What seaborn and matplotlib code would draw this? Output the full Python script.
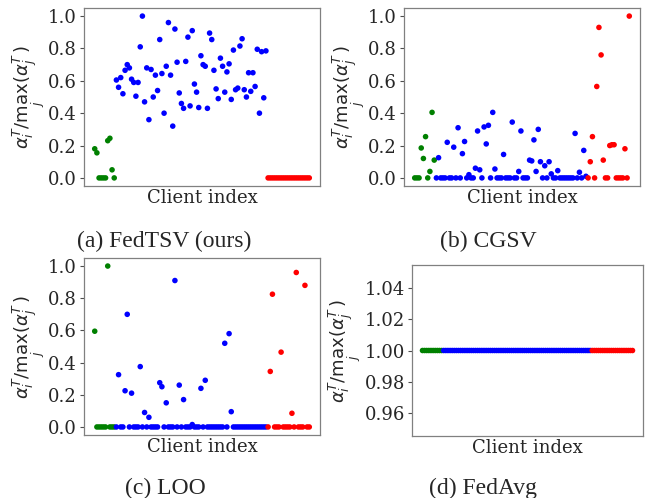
import numpy as np
import pandas as pd
import matplotlib
matplotlib.use("Agg")
import matplotlib.pyplot as plt
import seaborn as sns

# ---- data ----
fedtsv_green = [0.18, 0.155, 0, 0, 0, 0, 0.23, 0.245, 0.05, 0]
fedtsv_blue = [0.605, 0.56, 0.62, 0.52, 0.665, 0.70, 0.68, 0.61, 0.59, 0.505,
               0.59, 0.81, 1.0, 0.47, 0.68, 0.36, 0.67, 0.50, 0.635, 0.54,
               0.855, 0.645, 0.40, 0.69, 0.96, 0.635, 0.32, 0.92, 0.715, 0.525,
               0.46, 0.43, 0.72, 0.87, 0.445, 0.91, 0.58, 0.53, 0.435, 0.755,
               0.70, 0.69, 0.43, 0.895, 0.855, 0.665, 0.55, 0.49, 0.74, 0.69,
               0.53, 0.655, 0.705, 0.485, 0.79, 0.545, 0.555, 0.815, 0.86, 0.545,
               0.50, 0.65, 0.535, 0.65, 0.565, 0.795, 0.40, 0.78, 0.495, 0.785]
fedtsv_red = [0.0] * 20

cgsv_green = [0, 0, 0, 0.185, 0.12, 0.255, 0, 0.04, 0.405, 0.11]
cgsv_blue = [0, 0.125, 0, 0, 0, 0.22, 0, 0, 0.19, 0,
             0.31, 0, 0.15, 0.225, 0, 0.02, 0, 0, 0.06, 0.29,
             0.05, 0, 0.315, 0.21, 0.325, 0, 0.405, 0.055, 0, 0,
             0, 0.145, 0, 0, 0, 0.345, 0, 0, 0.04, 0.29,
             0, 0, 0, 0.11, 0.105, 0.235, 0.04, 0.30, 0.10, 0,
             0.075, 0, 0.10, 0.025, 0, 0, 0.045, 0, 0, 0,
             0, 0, 0, 0, 0.275, 0, 0.035, 0, 0.17, 0.01]
cgsv_red = [0, 0.10, 0.255, 0, 0.565, 0.93, 0.76, 0.11, 0, 0,
            0.20, 0.205, 0.205, 0, 0, 0, 0, 0.18, 0, 1.0]

loo_green = [0.595, 0, 0, 0, 0, 0, 1.0, 0, 0, 0]
loo_blue = [0, 0.325, 0, 0, 0.225, 0.70, 0, 0.21, 0, 0,
            0, 0.375, 0, 0.09, 0, 0.06, 0, 0, 0, 0,
            0.275, 0.25, 0, 0.15, 0, 0, 0, 0.91, 0, 0.26,
            0, 0.17, 0, 0, 0, 0.015, 0, 0, 0, 0.24,
            0, 0.29, 0, 0, 0, 0, 0, 0, 0, 0,
            0.52, 0, 0.58, 0.095, 0, 0, 0, 0, 0, 0,
            0, 0, 0, 0, 0, 0, 0, 0, 0, 0]
loo_red = [0, 0.345, 0.825, 0, 0, 0, 0.465, 0, 0, 0,
           0, 0.085, 0, 0.96, 0, 0, 0, 0.88, 0, 0]

fedavg_green = [1.0] * 10
fedavg_blue = [1.0] * 70
fedavg_red = [1.0] * 20

captions = ["(a) FedTSV (ours)", "(b) CGSV", "(c) LOO", "(d) FedAvg"]
xlabel = "Client index"
ylabel = r"$\alpha_i^T/\max_j(\alpha_j^T)$"
yticks_main = [0.0, 0.2, 0.4, 0.6, 0.8, 1.0]
yticks_avg = [0.96, 0.98, 1.00, 1.02, 1.04]
palette = {"g": "green", "b": "blue", "r": "red"}

panels = [
    (fedtsv_green, fedtsv_blue, fedtsv_red),
    (cgsv_green, cgsv_blue, cgsv_red),
    (loo_green, loo_blue, loo_red),
    (fedavg_green, fedavg_blue, fedavg_red),
]

# ---- style ----
sns.set_style("white")
plt.rcParams["font.family"] = ["DejaVu Serif"]
plt.rcParams["mathtext.fontset"] = "dejavusans"

W, H = 655, 498
fig = plt.figure(figsize=(W / 100, H / 100), dpi=100)

# axes boxes in pixels: left, right, top, bottom
boxes = [(84, 320, 8, 186), (404, 640, 8, 186),
         (84, 320, 258, 435), (412, 643, 265, 436)]
cap_pos = [(164, 241), (488, 241), (165, 488), (483, 488)]

for k, ((g, b, r), (l, rr, t, bt)) in enumerate(zip(panels, boxes)):
    ax = fig.add_axes([l / W, (H - bt) / H, (rr - l) / W, (bt - t) / H])
    vals = list(g) + list(b) + list(r)
    grp = ["g"] * len(g) + ["b"] * len(b) + ["r"] * len(r)
    df = pd.DataFrame({"idx": np.arange(len(vals)), "val": vals, "grp": grp})
    sns.scatterplot(data=df, x="idx", y="val", hue="grp", palette=palette,
                    s=16, linewidth=0, legend=False, ax=ax, zorder=3)
    ax.set_xticks([])
    ax.set_xlabel(xlabel, fontsize=13, labelpad=2)
    ax.set_ylabel(ylabel, fontsize=13, labelpad=1)
    ax.tick_params(axis="y", labelsize=13, length=3, width=0.8, left=True,
                   color="0.3", pad=2)
    if k == 3:
        ax.set_ylim(0.945, 1.055)
        ax.set_yticks(yticks_avg)
    else:
        ax.set_yticks(yticks_main)
    for sp in ax.spines.values():
        sp.set_color("0.5")
        sp.set_linewidth(0.9)
    cx, cy = cap_pos[k]
    fig.text(cx / W, 1 - cy / H, captions[k], ha="center", va="center",
             fontsize=17, family=["Liberation Serif"])

fig.savefig("out.png", dpi=100)
